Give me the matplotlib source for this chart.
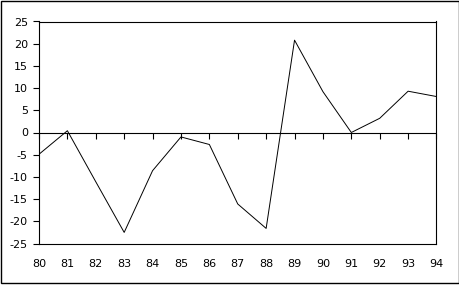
import matplotlib
matplotlib.use("Agg")
import matplotlib.pyplot as plt
from matplotlib.patches import Rectangle
from matplotlib.markers import TICKDOWN

# years (two-digit) and values
years = [80, 81, 82, 83, 84, 85, 86, 87, 88, 89, 90, 91, 92, 93, 94]
values = [-4.9, 0.4, -11.1, -22.5, -8.6, -1.0, -2.7, -16.1, -21.6, 20.8, 9.2, 0.0, 3.2, 9.3, 8.1]
yticks = [-25, -20, -15, -10, -5, 0, 5, 10, 15, 20, 25]
ytick_labels = ["-25", "-20", "-15", "-10", "-5", "0", "5", "10", "15", "20", "25"]

plt.rcParams["font.family"] = ["DejaVu Sans"]
plt.rcParams["font.size"] = 8

fig = plt.figure(figsize=(4.6, 2.85), dpi=100)
ax = fig.add_axes([39 / 460, 1 - 243.5 / 285, 397.5 / 460, 222 / 285])

# outer frame around the whole picture
fig.patches.append(Rectangle((0.5 / 460, 2.5 / 285), 458.5 / 460, 282 / 285,
                             transform=fig.transFigure, fill=False,
                             edgecolor="black", linewidth=1.0))

ax.plot(years, values, color="black", linewidth=0.7)

# zero line with tick marks hanging down from it
ax.axhline(0, color="black", linewidth=0.8)
ax.plot(years, [0] * len(years), linestyle="none", marker=TICKDOWN,
        markersize=4, markeredgewidth=0.8, color="black", clip_on=False)

ax.set_xlim(80, 94)
ax.set_ylim(-25, 25)
ax.set_yticks(yticks)
ax.set_yticklabels(ytick_labels)
ax.set_xticks(years)
ax.set_xticklabels([str(y) for y in years])
ax.tick_params(axis="x", length=0, pad=11)
ax.tick_params(axis="y", direction="out", length=4, width=0.8, pad=4)

for s in ax.spines.values():
    s.set_linewidth(0.8)

fig.savefig("out.png", dpi=100)
